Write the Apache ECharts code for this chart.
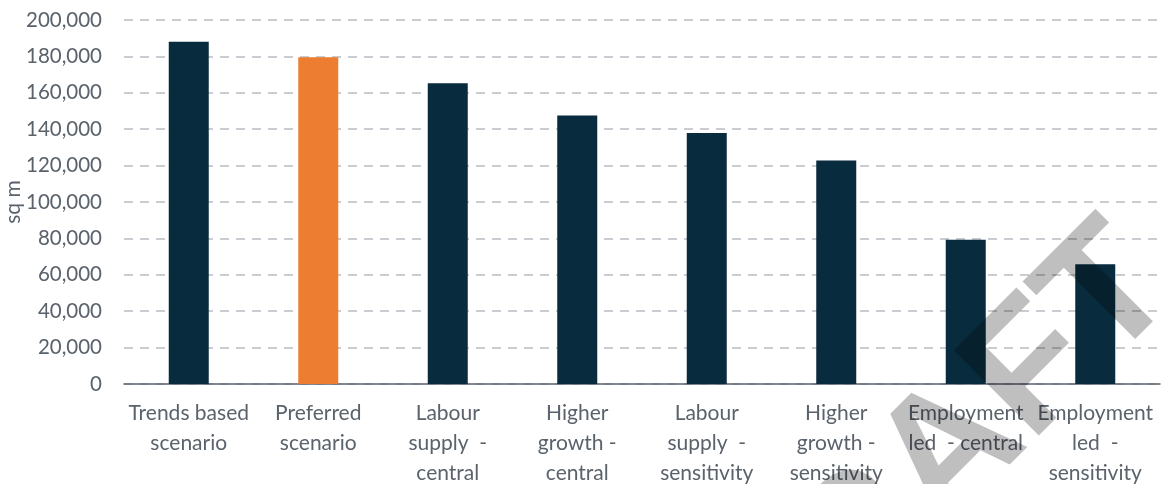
<!DOCTYPE html>
<html>
<head>
<meta charset="utf-8">
<script src="https://cdn.jsdelivr.net/npm/echarts@6/dist/echarts.min.js"></script>
<style>html,body{margin:0;padding:0;background:#fff}#c{width:1168px;height:484px}</style>
</head>
<body>
<div id="c"></div>
<script>
const categories = [
  'Trends based\nscenario',
  'Preferred\nscenario',
  'Labour\nsupply  -\ncentral',
  'Higher\ngrowth -\ncentral',
  'Labour\nsupply  -\nsensitivity',
  'Higher\ngrowth -\nsensitivity',
  'Employment\nled  - central',
  'Employment\nled  -\nsensitivity'
];
const values = [188000, 179500, 165200, 147500, 137900, 122800, 79200, 65800];
const highlightIndex = 1;
const yAxisName = 'sq m';
const watermark = 'DRAFT';

const navy = '#082b3e';
const orange = '#ED7D31';
const textColor = '#5a626b';

const chart = echarts.init(document.getElementById('c'));
chart.setOption({
  animation: false,
  grid: { left: 124, right: 8, top: 20, bottom: 100, containLabel: false, outerBoundsMode: 'none' },
  xAxis: {
    type: 'category',
    data: categories,
    axisTick: { show: false },
    axisLine: { lineStyle: { color: '#5a626b', width: 1.5 } },
    axisLabel: { color: textColor, fontFamily: 'Lato', fontSize: 21, lineHeight: 30, margin: 14, interval: 0 }
  },
  yAxis: {
    type: 'value',
    min: 0, max: 200000, interval: 20000,
    name: yAxisName,
    nameLocation: 'middle',
    nameGap: 100,
    nameMoveOverlap: false,
    nameTextStyle: { color: textColor, fontFamily: 'Lato', fontSize: 21 },
    axisLine: { show: false },
    axisTick: { show: false },
    axisLabel: {
      color: textColor, fontFamily: 'Lato', fontSize: 20.5, margin: 22,
      formatter: v => v.toLocaleString('en-US')
    },
    splitLine: { lineStyle: { color: '#c9cdd1', width: 2, type: [9, 7] } }
  },
  series: [{
    type: 'bar',
    barWidth: 40,
    data: values.map((v, i) => ({ value: v, itemStyle: { color: i === highlightIndex ? orange : navy } }))
  }],
  graphic: [{
    type: 'text',
    x: 938, y: 468,
    rotation: Math.PI / 4,
    z: 100,
    style: {
      text: watermark,
      fontFamily: 'Liberation Sans',
      fontWeight: 'bold',
      fontSize: 175,
      fill: 'rgba(0,0,0,0.25)',
      align: 'center',
      verticalAlign: 'middle'
    }
  }]
});
</script>
</body>
</html>
